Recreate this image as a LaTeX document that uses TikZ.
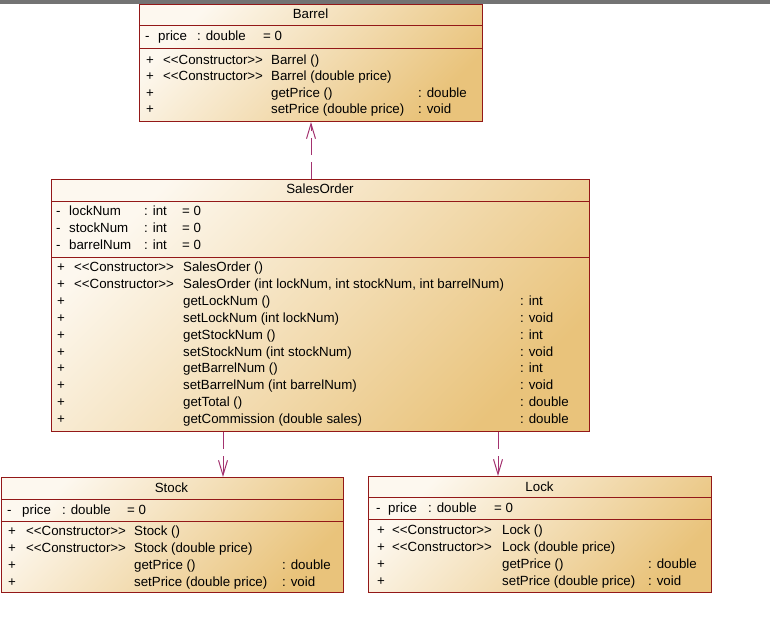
\documentclass[tikz,border=0pt]{standalone}
\usepackage{fontspec}
\setmainfont{Liberation Sans}
\usepackage{xcolor}
\usepackage{tikz}
\usetikzlibrary{arrows.meta,positioning,calc}

\definecolor{umlborder}{HTML}{931818}
\definecolor{umllight}{HTML}{FDF8EF}
\definecolor{umldark}{HTML}{E9C37B}
\definecolor{depline}{HTML}{A3326F}
\newcommand{\umlctor}{<\kern0pt<Constructor>\kern0pt>}

\begin{document}
\begin{tikzpicture}[x=1pt, y=-1pt,
    cls/.style={draw=umlborder, line width=1pt, anchor=north west, inner sep=0pt,
      top color=umllight, bottom color=umldark, shading angle=45},
    sep/.style={draw=umlborder, line width=1pt},
    lbl/.style={anchor=base west, inner sep=0pt, font=\fontsize{13.3}{15}\selectfont},
    ttl/.style={anchor=base, inner sep=0pt, font=\fontsize{13.3}{15}\selectfont},
    dep/.style={draw=depline, line width=1pt, dash pattern=on 17pt off 7pt,
      -{Straight Barb[length=15pt, width=9pt]}}]
  \useasboundingbox (0,0) rectangle (770,626);

  % window strip at the top
  \fill[gray!90!black] (0,0) rectangle (770,4.5);

  % Barrel
  \node[cls, minimum width=343pt, minimum height=117pt] (barrel) at (139,4) {};
  \node[ttl] (barrel-t) at (310.5,19) {Barrel};
  \draw[sep] (139,26) -- (482,26);
  \draw[sep] (139,49) -- (482,49);
  \node[lbl] (barrel-a0) at (145,41) {-};
  \node[lbl] (barrel-a1) at (158,41) {price};
  \node[lbl] (barrel-a2) at (197,41) {: double};
  \node[lbl] (barrel-a3) at (263,41) {= 0};
  \foreach \y/\cn/\nm/\rt [count=\k] in {64/\umlctor/Barrel ()/, 80.5/\umlctor/Barrel (double price)/,
      97//getPrice ()/: double, 113.5//setPrice (double price)/: void} {
    \node[lbl] (barrel-p\k) at (146,\y) {+};
    \node[lbl] (barrel-c\k) at (163,\y) {\cn};
    \node[lbl] (barrel-m\k) at (271,\y) {\nm};
    \node[lbl] (barrel-r\k) at (418,\y) {\rt};
  }

  % SalesOrder
  \node[cls, minimum width=538pt, minimum height=252pt] (order) at (51,179) {};
  \node[ttl] (order-t) at (320,193) {SalesOrder};
  \draw[sep] (51,201.5) -- (589,201.5);
  \draw[sep] (51,257.5) -- (589,257.5);
  \foreach \y/\nm [count=\k] in {215.5/lockNum, 232/stockNum, 249/barrelNum} {
    \node[lbl] (order-d\k) at (56,\y) {-};
    \node[lbl] (order-a\k) at (69,\y) {\nm};
    \node[lbl] (order-t\k) at (144,\y) {: int};
    \node[lbl] (order-v\k) at (182,\y) {= 0};
  }
  \node[lbl] (order-p0) at (57,271.5) {+};
  \node[lbl] (order-c0) at (74,271.5) {\umlctor};
  \node[lbl] (order-m0) at (183,271.5) {SalesOrder ()};
  \node[lbl] (order-q0) at (57,288.4) {+};
  \node[lbl] (order-c1) at (74,288.4) {\umlctor};
  \node[lbl] (order-n0) at (183,288.4) {SalesOrder (int lockNum, int stockNum, int barrelNum)};
  \foreach \nm/\rt [count=\k] in {getLockNum ()/: int, setLockNum (int lockNum)/: void,
      getStockNum ()/: int, setStockNum (int stockNum)/: void,
      getBarrelNum ()/: int, setBarrelNum (int barrelNum)/: void,
      getTotal ()/: double, getCommission (double sales)/: double} {
    \pgfmathsetmacro\y{288.4+16.9*\k}
    \node[lbl] (order-p\k) at (57,\y) {+};
    \node[lbl] (order-m\k) at (183,\y) {\nm};
    \node[lbl] (order-r\k) at (520,\y) {\rt};
  }

  % Stock
  \node[cls, minimum width=342.5pt, minimum height=115pt] (stock) at (0.5,477) {};
  \node[ttl] (stock-t) at (171.5,492) {Stock};
  \draw[sep] (0.5,499) -- (343,499);
  \draw[sep] (0.5,521) -- (343,521);
  \node[lbl] (stock-a0) at (7,514) {-};
  \node[lbl] (stock-a1) at (22,514) {price};
  \node[lbl] (stock-a2) at (62,514) {: double};
  \node[lbl] (stock-a3) at (127,514) {= 0};
  \foreach \y/\cn/\nm/\rt [count=\k] in {535/\umlctor/Stock ()/, 552/\umlctor/Stock (double price)/,
      569//getPrice ()/: double, 586//setPrice (double price)/: void} {
    \node[lbl] (stock-p\k) at (8,\y) {+};
    \node[lbl] (stock-c\k) at (26,\y) {\cn};
    \node[lbl] (stock-m\k) at (134,\y) {\nm};
    \node[lbl] (stock-r\k) at (282,\y) {\rt};
  }

  % Lock
  \node[cls, minimum width=343pt, minimum height=116pt] (lock) at (368,476) {};
  \node[ttl] (lock-t) at (539.5,491) {Lock};
  \draw[sep] (368,497.5) -- (711,497.5);
  \draw[sep] (368,519) -- (711,519);
  \node[lbl] (lock-a0) at (376,512) {-};
  \node[lbl] (lock-a1) at (388,512) {price};
  \node[lbl] (lock-a2) at (428,512) {: double};
  \node[lbl] (lock-a3) at (494,512) {= 0};
  \foreach \y/\cn/\nm/\rt [count=\k] in {534/\umlctor/Lock ()/, 551/\umlctor/Lock (double price)/,
      568//getPrice ()/: double, 585//setPrice (double price)/: void} {
    \node[lbl] (lock-p\k) at (377,\y) {+};
    \node[lbl] (lock-c\k) at (392,\y) {\cn};
    \node[lbl] (lock-m\k) at (502,\y) {\nm};
    \node[lbl] (lock-r\k) at (648,\y) {\rt};
  }

  % dependencies
  \draw[dep] (barrel.south |- order.north) -- (barrel.south);
  \draw[dep] ([xshift=172pt]order.south west) -- ([xshift=222.5pt]stock.north west);
  \draw[dep] ([xshift=447pt]order.south west) -- ([xshift=130pt]lock.north west);
\end{tikzpicture}
\end{document}
